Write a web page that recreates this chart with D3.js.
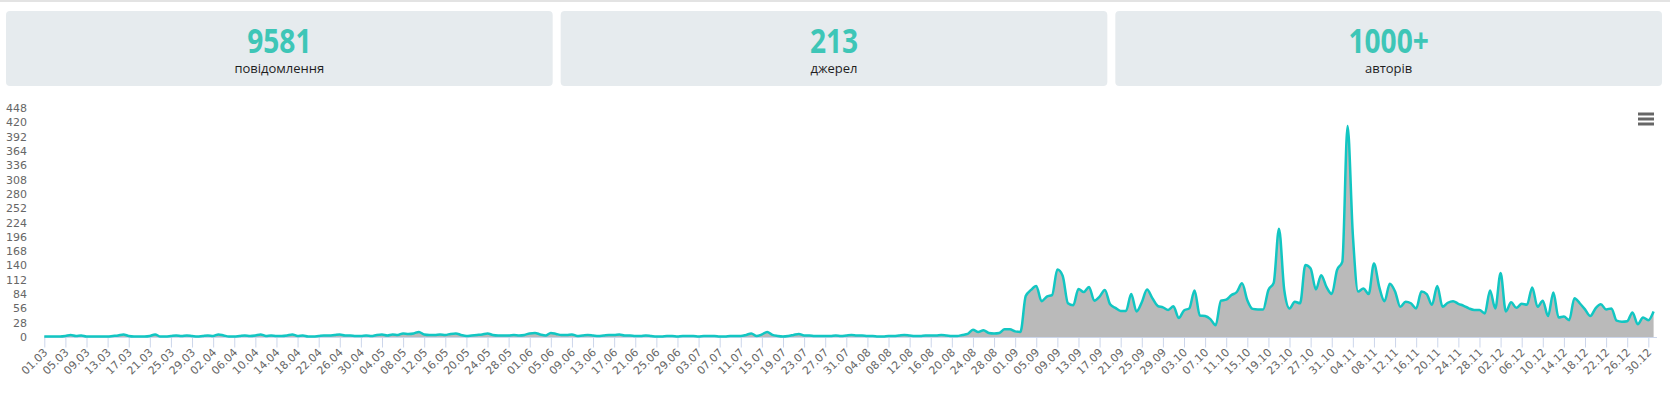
<!DOCTYPE html>
<html>
<head>
<meta charset="utf-8">
<script src="https://cdn.jsdelivr.net/npm/d3@7.9.0/dist/d3.min.js"></script>
<style>
  html, body { margin: 0; padding: 0; background: #fff; }
  svg { display: block; }
</style>
</head>
<body>
<div id="chart"></div>
<script>
// summary cards
const cardValues = ['9581', '213', '1000+'];
const cardLabels = ['повідомлення', 'джерел', 'авторів'];

// daily message counts, 01.03 - 31.12
const march = [1,1,1,1,2,4,2,3,1,1,1,1,1,2,3,5,2,1,1,1,2,5,1,1,2,3,2,3,2,1,2];
const april = [3,2,5,3,1,1,2,3,2,3,5,2,3,2,2,3,5,2,3,1,1,2,3,3,4,5,3,3,2,2];
const may = [3,2,4,5,3,5,4,7,6,7,10,5,4,4,5,4,6,7,4,2,3,4,5,7,4,3,3,3,4,3,4];
const june = [7,8,5,3,8,6,4,4,5,2,3,4,3,2,3,4,4,5,3,3,2,2,3,2,1,1,2,2,1,2];
const july = [2,2,1,2,2,2,1,1,2,2,2,4,7,2,5,10,4,2,1,2,4,6,3,3,2,2,2,2,3,2,3];
const august = [4,3,3,2,2,1,1,2,2,3,4,3,2,2,3,3,3,4,3,2,2,4,6,14,10,13,8,7,8,15,15];
const september = [11,10,80,92,100,70,79,82,132,120,66,62,94,88,98,71,79,92,64,57,51,51,84,50,68,93,76,61,58,53];
const october = [60,37,52,56,91,42,41,35,23,71,73,82,88,105,72,55,54,54,92,106,212,92,56,69,66,141,134,93,121,98,84];
const november = [131,147,413,200,89,95,84,144,98,70,104,89,59,69,66,56,89,84,63,100,59,67,70,65,61,56,53,53,46,91];
const december = [56,125,50,68,57,65,63,97,59,71,41,87,38,40,33,76,66,54,41,56,64,54,56,32,30,31,48,25,38,33,50];

const yTicks = d3.range(0, 449, 28);
const tickEvery = 4;

const counts = [].concat(march, april, may, june, july, august, september, october, november, december);
const days = d3.timeDay.range(new Date(2019, 2, 1), new Date(2020, 0, 1));
const data = days.map((d, i) => ({ date: d, value: counts[i] }));

const width = 1670, height = 394;
const svg = d3.select('#chart')
    .append('svg')
    .attr('width', width)
    .attr('height', height);

// top strip
svg.append('rect')
    .attr('x', 0).attr('y', 0)
    .attr('width', width).attr('height', 2)
    .attr('fill', '#e3e3e3');

// cards
const cardX = d3.scaleBand()
    .domain(d3.range(cardValues.length))
    .range([6, 1662])
    .paddingInner(0.0144)
    .paddingOuter(0);
const cw = cardX.bandwidth();

const cards = svg.selectAll('g.card')
    .data(cardValues)
    .join('g')
    .attr('class', 'card')
    .attr('transform', (d, i) => `translate(${cardX(i)},11)`);

cards.append('rect')
    .attr('width', cw)
    .attr('height', 75)
    .attr('rx', 4)
    .attr('fill', '#e6ebee');

cards.append('text')
    .attr('transform', `translate(${cw / 2},41.5) scale(0.84,1)`)
    .attr('text-anchor', 'middle')
    .attr('font-family', 'Open Sans, sans-serif')
    .attr('font-weight', 700)
    .attr('font-size', 33.5)
    .attr('fill', '#3ec6b7')
    .text(d => d);

cards.append('text')
    .attr('x', cw / 2)
    .attr('y', 61.5)
    .attr('text-anchor', 'middle')
    .attr('font-family', 'Open Sans, sans-serif')
    .attr('font-size', 13)
    .attr('fill', '#1e1e1e')
    .text((d, i) => cardLabels[i]);

// chart
const x = d3.scaleTime()
    .domain([days[0], days[days.length - 1]])
    .range([44.3, 1653.6]);

const y = d3.scaleLinear()
    .domain([0, 448])
    .range([337, 108]);

const area = d3.area()
    .x(d => x(d.date))
    .y0(y(0))
    .y1(d => y(d.value))
    .curve(d3.curveMonotoneX);

const line = d3.line()
    .x(d => x(d.date))
    .y(d => y(d.value))
    .curve(d3.curveMonotoneX);

svg.append('path')
    .attr('d', area(data))
    .attr('fill', '#bababa');

// y axis labels
const yAxis = svg.append('g')
    .attr('transform', 'translate(27,0)')
    .call(d3.axisLeft(y).tickValues(yTicks).tickSize(0).tickPadding(0));
yAxis.select('.domain').remove();
yAxis.selectAll('text')
    .attr('font-family', 'DejaVu Sans, sans-serif')
    .attr('font-size', 11)
    .attr('fill', '#666');

// x axis
const xAxis = svg.append('g')
    .attr('transform', 'translate(0,337.5)')
    .call(d3.axisBottom(x)
        .tickValues(days.filter((d, i) => i % tickEvery === 0))
        .tickFormat(d3.timeFormat('%d.%m'))
        .tickSize(10)
        .tickSizeOuter(0));
xAxis.select('.domain').remove();
xAxis.selectAll('.tick line').attr('stroke', '#ccd6eb');
xAxis.selectAll('text')
    .attr('x', 0).attr('y', 0).attr('dy', 0)
    .attr('text-anchor', 'end')
    .attr('transform', 'translate(3.5,15.5) rotate(-45)')
    .attr('font-family', 'DejaVu Sans, sans-serif')
    .attr('font-size', 11)
    .attr('fill', '#666');

svg.append('line')
    .attr('x1', 44).attr('x2', 1657)
    .attr('y1', 337.5).attr('y2', 337.5)
    .attr('stroke', '#ccd6eb');

svg.append('path')
    .attr('d', line(data))
    .attr('fill', 'none')
    .attr('stroke', '#12c6c2')
    .attr('stroke-width', 2.5)
    .attr('stroke-linejoin', 'round');

// menu button
svg.append('g')
    .selectAll('line')
    .data([114, 119, 124])
    .join('line')
    .attr('x1', 1638).attr('x2', 1654)
    .attr('y1', d => d).attr('y2', d => d)
    .attr('stroke', '#666')
    .attr('stroke-width', 3);
</script>
</body>
</html>
